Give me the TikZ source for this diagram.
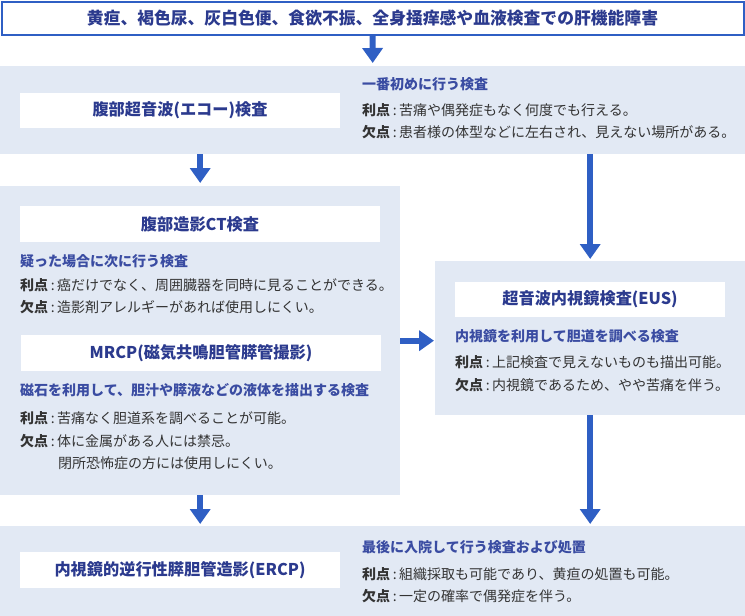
\documentclass[tikz,border=0pt]{standalone}
\usepackage{fontspec}
\setmainfont{Noto Sans CJK JP}
\usetikzlibrary{arrows.meta}
\definecolor{arrblue}{HTML}{2F5FC4}
\definecolor{navy}{HTML}{2B3A8E}
\definecolor{subblue}{HTML}{3A4CA2}
\definecolor{bodygray}{HTML}{333333}
\definecolor{bandfill}{HTML}{E2E9F4}
\newcommand\procon[2]{{\bfseries #1}\makebox[9pt][c]{:}#2}
\tikzset{
  band/.style={fill=bandfill, draw=none, inner sep=0pt, anchor=north west},
  wbox/.style={fill=white, draw=none, inner sep=0pt, font=\fontsize{16.2}{18}\selectfont\bfseries, text=navy},
  subh/.style={anchor=west, inner sep=0pt, font=\fontsize{14}{16}\selectfont\bfseries, text=subblue},
  body/.style={anchor=west, inner sep=0pt, font=\fontsize{14}{16}\selectfont, text=bodygray},
  arr/.style={draw=arrblue, line width=6pt, -{Triangle[width=20pt,length=15pt]}, arrows={[fill=arrblue]}},
}
\begin{document}
\begin{tikzpicture}[x=1pt,y=-1pt]
\useasboundingbox (0,0) rectangle (745,616);
% top box
\node[draw=arrblue, line width=2pt, fill=white, minimum width=742pt, minimum height=33pt, inner sep=0pt,
      font=\fontsize{16.8}{18}\selectfont\bfseries, text=navy] (top) at (372.5,18) {黄疸、褐色尿、灰白色便、食欲不振、全身掻痒感や血液検査での肝機能障害};
% bands
\node[band, minimum width=745pt, minimum height=88pt] (b1) at (0,66) {};
\node[band, minimum width=400pt, minimum height=309pt] (b2) at (0,186) {};
\node[band, minimum width=310pt, minimum height=154pt] (b3) at (435,261) {};
\node[band, minimum width=745pt, minimum height=90pt] (b4) at (0,526) {};
% white title boxes
\node[wbox, minimum width=320pt, minimum height=35pt] (us) at (180,110.5) {腹部超音波(エコー)検査};
\node[wbox, minimum width=360pt, minimum height=36pt] (ct) at (200,224) {腹部造影CT検査};
\node[wbox, minimum width=360pt, minimum height=36pt] (mrcp) at (201,353) {MRCP(磁気共鳴胆管膵管撮影)};
\node[wbox, minimum width=270pt, minimum height=35pt] (eus) at (590,299.5) {超音波内視鏡検査(EUS)};
\node[wbox, minimum width=320pt, minimum height=36pt] (ercp) at (180,570) {内視鏡的逆行性膵胆管造影(ERCP)};
% band 1 texts
\node[subh] (s1) at (362,84) {一番初めに行う検査};
\node[body] (p1) at (362,110) {\procon{利点}{苦痛や偶発症もなく何度でも行える。}};
\node[body] (c1) at (362,132) {\procon{欠点}{患者様の体型などに左右され、見えない場所がある。}};
% band 2 texts
\node[subh] (s2) at (20,261) {疑った場合に次に行う検査};
\node[body] (p2) at (20,285) {\procon{利点}{癌だけでなく、周囲臓器を同時に見ることができる。}};
\node[body] (c2) at (20,307) {\procon{欠点}{造影剤アレルギーがあれば使用しにくい。}};
\node[subh] (s3) at (20,390) {磁石を利用して、胆汁や膵液などの液体を描出する検査};
\node[body] (p3) at (20,418) {\procon{利点}{苦痛なく胆道系を調べることが可能。}};
\node[body] (c3) at (20,441) {\procon{欠点}{体に金属がある人には禁忌。}};
\node[body] (c3b) at (58,463) {閉所恐怖症の方には使用しにくい。};
% band 3 texts
\node[subh] (s4) at (455,336) {内視鏡を利用して胆道を調べる検査};
\node[body] (p4) at (455,362) {\procon{利点}{上記検査で見えないものも描出可能。}};
\node[body] (c4) at (455,385) {\procon{欠点}{内視鏡であるため、やや苦痛を伴う。}};
% band 4 texts
\node[subh] (s5) at (362,547) {最後に入院して行う検査および処置};
\node[body] (p5) at (362,574) {\procon{利点}{組織採取も可能であり、黄疸の処置も可能。}};
\node[body] (c5) at (362,596) {\procon{欠点}{一定の確率で偶発症を伴う。}};
% arrows
\draw[arr] (top.south) -- ([yshift=3pt]b1.north);
\draw[arr] (b1.south -| b2.north) -- ([yshift=3pt]b2.north);
\draw[arr] (b1.south -| b3.north) -- ([yshift=2pt]b3.north);
\draw[arr] (b2.east) -- ([xshift=-1pt]b2.east -| b3.west);
\draw[arr] (b2.south) -- ([yshift=2pt]b4.north -| b2.south);
\draw[arr] (b3.south) -- ([yshift=2pt]b4.north -| b3.south);
\end{tikzpicture}
\end{document}
